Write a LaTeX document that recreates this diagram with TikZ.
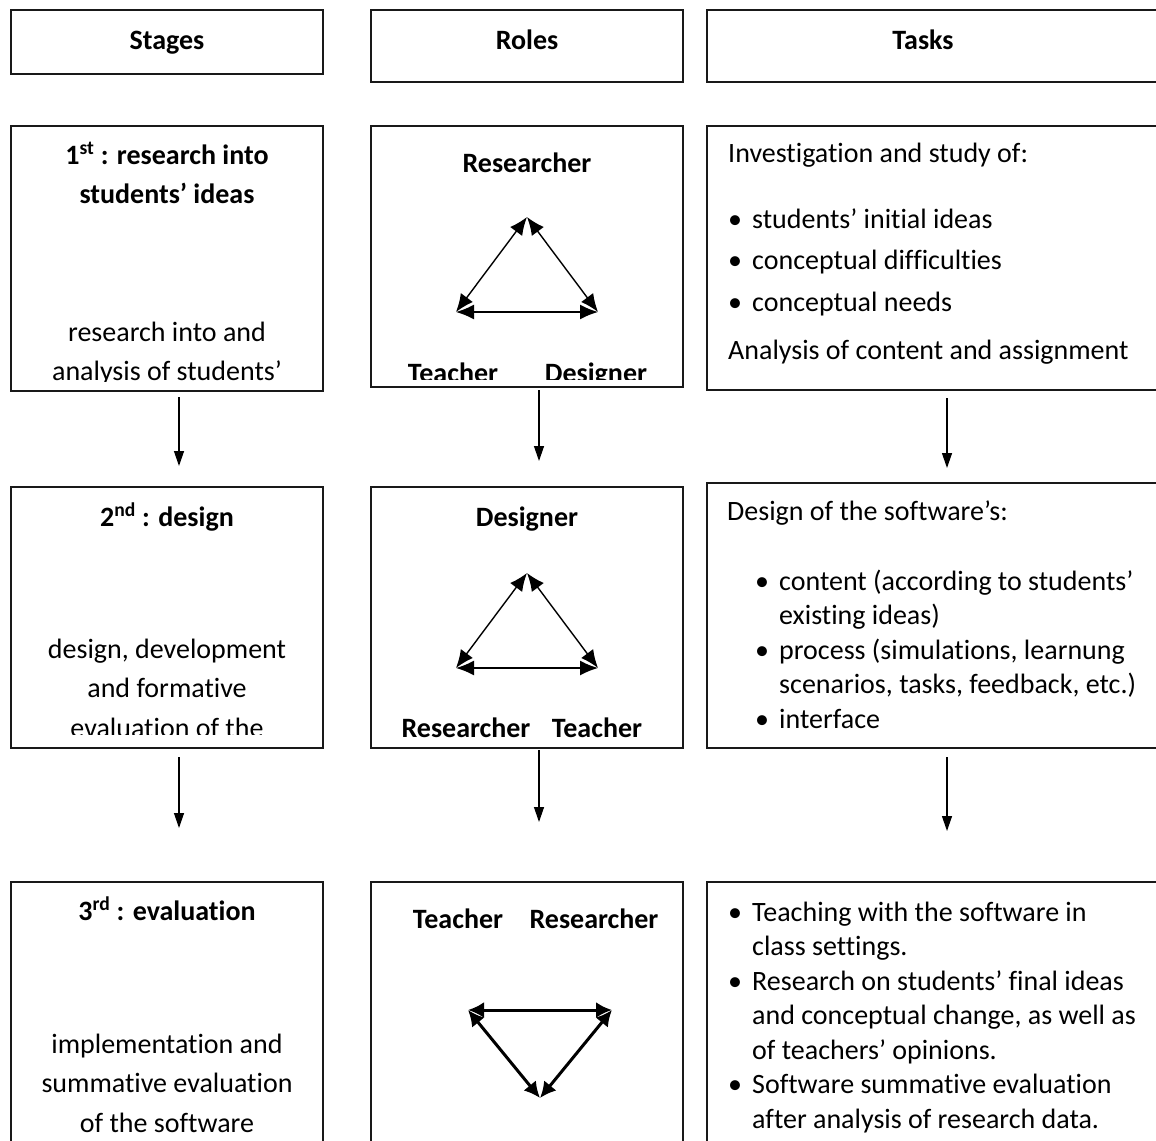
\documentclass[tikz,border=0pt]{standalone}
\usepackage{fontspec}
\setmainfont[Ligatures=NoCommon]{Carlito}
\usetikzlibrary{arrows.meta}
\newcommand{\bul}{\makebox[24pt][l]{\textbullet}}
\begin{document}
\begin{tikzpicture}[x=1pt,y=-1pt,
  box/.style={draw=black!90, line width=1.4pt, inner sep=0pt, outer sep=0pt, anchor=north west},
  hd/.style={inner sep=0pt, anchor=base, font=\fontsize{28}{34.2}\selectfont\bfseries},
  lab/.style={inner sep=0pt, anchor=base, font=\fontsize{28}{34.2}\selectfont\bfseries},
  wide/.style={inner sep=0pt, font=\fontsize{28}{39.5}\selectfont},
  list/.style={inner sep=0pt, font=\fontsize{28}{34.5}\selectfont},
  listw/.style={inner sep=0pt, font=\fontsize{28}{41.5}\selectfont},
  flow/.style={line width=1.3pt, -{Triangle[length=15pt,width=10pt]}},
  tri/.style={line width=1.4pt, {Latex[length=18pt,width=15pt]}-{Latex[length=18pt,width=15pt]}},
  trib/.style={line width=3pt, {Latex[length=16pt,width=16pt]}-{Latex[length=16pt,width=16pt]}}]
\useasboundingbox (0,0) rectangle (1156,1140);

% header boxes
\node[box, minimum width=312pt, minimum height=64pt] (hS) at (11,10) {};
\node[box, minimum width=312pt, minimum height=72pt] (hR) at (371,10) {};
\node[box, minimum width=450pt, minimum height=72pt] (hT) at (707,10) {};
\node[hd] (hSt) at (167,49) {Stages};
\node[hd] (hRt) at (527,50) {Roles};
\node[hd] (hTt) at (923,50) {Tasks};

% row boxes
\node[box, minimum width=312pt, minimum height=265pt] (s1) at (11,126) {};
\node[box, minimum width=312pt, minimum height=261pt] (r1) at (371,126) {};
\node[box, minimum width=450pt, minimum height=264pt] (t1) at (707,126) {};
\node[box, minimum width=312pt, minimum height=261pt] (s2) at (11,487) {};
\node[box, minimum width=312pt, minimum height=261pt] (r2) at (371,487) {};
\node[box, minimum width=450pt, minimum height=265pt] (t2) at (707,483) {};
\node[box, minimum width=312pt, minimum height=300pt] (s3) at (11,882) {};
\node[box, minimum width=312pt, minimum height=300pt] (r3) at (371,882) {};
\node[box, minimum width=450pt, minimum height=300pt] (t3) at (707,882) {};

% stage texts
\node[wide, anchor=base] (s1a) at (167,164) {\begin{tabular}[t]{@{}c@{}}\textbf{1\textsuperscript{st} : research into}\\ \textbf{students’ ideas}\end{tabular}};
\begin{scope}
\clip (s1.north west) rectangle ([yshift=10pt]s1.south east);
\node[wide, anchor=base] (s1b) at (167,341) {\begin{tabular}[t]{@{}c@{}}research into and\\ analysis of students’\end{tabular}};
\end{scope}
\node[wide, anchor=base] (s2a) at (167,526) {\textbf{2\textsuperscript{nd} : design}};
\begin{scope}
\clip (s2.north west) rectangle ([yshift=14pt]s2.south east);
\node[wide, anchor=base] (s2b) at (167,658) {\begin{tabular}[t]{@{}c@{}}design, development\\ and formative\\ evaluation of the\end{tabular}};
\end{scope}
\node[wide, anchor=base] (s3a) at (167,920) {\textbf{3\textsuperscript{rd} : evaluation}};
\node[wide, anchor=base] (s3b) at (167,1053) {\begin{tabular}[t]{@{}c@{}}implementation and\\ summative evaluation\\ of the software\end{tabular}};

% roles 1
\node[lab] (r1top) at (527,172) {Researcher};
\coordinate (r1a) at (527,217);
\coordinate (r1b) at (456,312);
\coordinate (r1c) at (598,312);
\draw[tri] (r1a) -- (r1b);
\draw[tri] (r1a) -- (r1c);
\draw[tri] (r1b) -- (r1c);
\begin{scope}
\clip (r1.north west) rectangle ([yshift=8pt]r1.south east);
\node[lab] (r1l) at (453,382) {Teacher};
\node[lab] (r1r) at (596,382) {Designer};
\end{scope}

% roles 2
\node[lab] (r2top) at (527,526) {Designer};
\coordinate (r2a) at (527,573);
\coordinate (r2b) at (456,668);
\coordinate (r2c) at (598,668);
\draw[tri] (r2a) -- (r2b);
\draw[tri] (r2a) -- (r2c);
\draw[tri] (r2b) -- (r2c);
\node[lab] (r2l) at (466,737) {Researcher};
\node[lab] (r2r) at (597,737) {Teacher};

% roles 3
\node[lab] (r3l) at (458,928) {Teacher};
\node[lab] (r3r) at (594,928) {Researcher};
\coordinate (r3b) at (468,1010);
\coordinate (r3c) at (612,1010);
\coordinate (r3a) at (540,1098);
\draw[trib] (r3b) -- (r3c);
\draw[trib] (r3b) -- (r3a);
\draw[trib] (r3c) -- (r3a);

% tasks 1
\node[list, anchor=base west] (t1a) at (728,162) {Investigation and study of:};
\node[listw, anchor=base west] (t1b) at (728,228) {\begin{tabular}[t]{@{}l@{}l@{}}\bul & students’ initial ideas\\ \bul & conceptual difficulties\\ \bul & conceptual needs\end{tabular}};
\node[list, anchor=base west] (t1c) at (728,359) {Analysis of content and assignment};

% tasks 2
\node[list, anchor=base west] (t2a) at (727,520) {Design of the software’s:};
\node[list, anchor=base west] (t2b) at (755,590) {\begin{tabular}[t]{@{}l@{}l@{}}\bul & content (according to students’\\ & existing ideas)\\ \bul & process (simulations, learnung\\ & scenarios, tasks, feedback, etc.)\\ \bul & interface\end{tabular}};

% tasks 3
\node[list, anchor=base west] (t3a) at (728,921) {\begin{tabular}[t]{@{}l@{}l@{}}\bul & Teaching with the software in\\ & class settings.\\ \bul & Research on students’ final ideas\\ & and conceptual change, as well as\\ & of teachers’ opinions.\\ \bul & Software summative evaluation\\ & after analysis of research data.\end{tabular}};

% flow arrows
\draw[flow, shorten <=6pt, shorten >=21pt] ([xshift=12pt]s1.south) -- ([xshift=12pt]s2.north);
\draw[flow, shorten <=3pt, shorten >=26pt] ([xshift=12pt]r1.south) -- ([xshift=12pt]r2.north);
\draw[flow, shorten <=8pt, shorten >=15pt] ([xshift=15pt]t1.south) -- ([xshift=15pt]t2.north);
\draw[flow, shorten <=9pt, shorten >=54pt] ([xshift=12pt]s2.south) -- ([xshift=12pt]s3.north);
\draw[flow, shorten <=2pt, shorten >=60pt] ([xshift=12pt]r2.south) -- ([xshift=12pt]r3.north);
\draw[flow, shorten <=9pt, shorten >=51pt] ([xshift=15pt]t2.south) -- ([xshift=15pt]t3.north);
\end{tikzpicture}
\end{document}
